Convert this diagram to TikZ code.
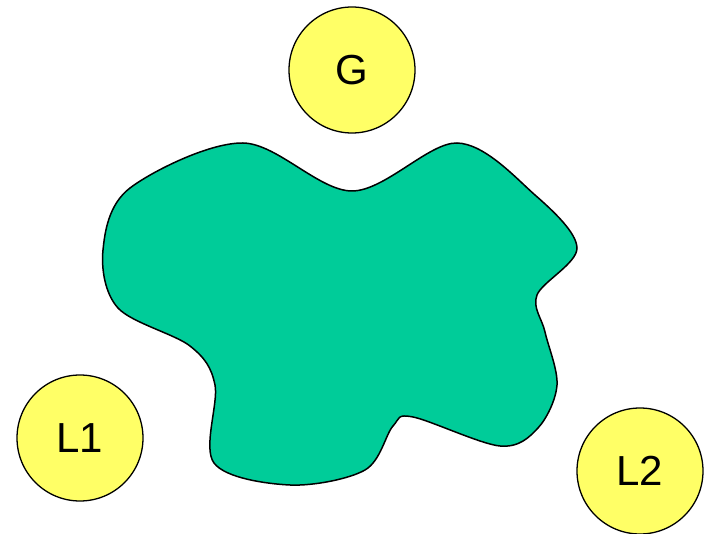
\documentclass[tikz,border=0pt]{standalone}
\usepackage{fontspec}
\setmainfont{Liberation Sans}
\usepackage{xcolor}
\usepackage{tikz}
\usetikzlibrary{positioning}
\definecolor{blobgreen}{HTML}{00CC99}
\definecolor{nodeyellow}{HTML}{FFFF66}

\begin{document}
\begin{tikzpicture}[
  x=1pt, y=-1pt,
  agent/.style={circle, draw=black, line width=1.3pt, fill=nodeyellow,
    minimum size=126pt, inner sep=0pt, font=\fontsize{42}{48}\selectfont},
  region/.style={draw=black, line width=1.5pt, fill=blobgreen},
]
  \useasboundingbox (0,0) rectangle (710,534);

  % the shared region
  \draw[region] plot[smooth cycle, tension=0.55] coordinates {
    (103,250) (130,188) (243,143) (352,191) (457,143) (535,195)
    (577,248) (537,295) (545,332) (557,385) (538,428) (500,446)
    (413,417) (393,426) (365,470) (290,485) (214,463) (215,385)
    (190,346) (118,308)};

  \node[agent] (g) at (352,70) {G};
  \node[agent] (l1) at (80,438) {L1};
  \node[agent] (l2) at (640,471) {L2};
\end{tikzpicture}
\end{document}
